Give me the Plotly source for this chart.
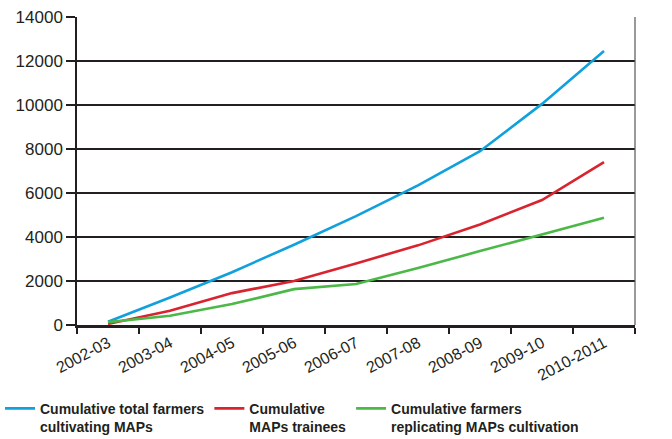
import plotly.graph_objects as go

years = ["2002-03", "2003-04", "2004-05", "2005-06", "2006-07",
         "2007-08", "2008-09", "2009-10", "2010-2011"]
total_farmers = [150, 1250, 2400, 3650, 4950, 6350, 7900, 10050, 12450]
trainees = [50, 650, 1450, 2000, 2800, 3620, 4570, 5680, 7400]
replicating = [130, 420, 950, 1630, 1860, 2590, 3360, 4110, 4880]
series_names = ["Cumulative total farmers<br>cultivating MAPs",
                "Cumulative<br>MAPs trainees",
                "Cumulative farmers<br>replicating MAPs cultivation"]
colors = ["#10a0dc", "#d9232e", "#4cb848"]
y_ticks = [0, 2000, 4000, 6000, 8000, 10000, 12000, 14000]

fig = go.Figure()
for name, vals, c in zip(series_names, [total_farmers, trainees, replicating], colors):
    fig.add_trace(go.Scatter(x=years, y=vals, mode="lines", name=name,
                             line=dict(color=c, width=2.6)))

font_main = "Liberation Sans, Arial, sans-serif"
fig.update_layout(
    width=672, height=439,
    margin=dict(l=77, r=37, t=17, b=114, autoexpand=False),
    plot_bgcolor="white", paper_bgcolor="white",
    font=dict(family=font_main, color="#231f20"),
    showlegend=True,
    legend=dict(orientation="h", x=-0.138, xanchor="left",
                y=-0.22, yanchor="top",
                font=dict(family="Liberation Sans, Arial, sans-serif",
                          size=14, color="#231f20", weight="bold"),
                itemwidth=30, traceorder="normal", valign="top"),
    xaxis=dict(type="category", tickson="boundaries", ticks="outside", ticklen=6,
               tickwidth=2, tickcolor="#231f20", showgrid=False,
               showline=True, linecolor="#231f20", linewidth=2.5,
               mirror=False, tickangle=-28, automargin=False,
               tickfont=dict(size=16, color="#231f20"),
               range=[-0.5, 8.5]),
    yaxis=dict(range=[0, 14000], tickvals=y_ticks, ticktext=[str(v) for v in y_ticks],
               ticks="outside", ticklen=9, automargin=False,
               tickwidth=2, tickcolor="#231f20",
               showgrid=True, gridcolor="#231f20", gridwidth=2,
               showline=True, linecolor="#231f20", linewidth=1.5,
               zeroline=False, tickfont=dict(size=17, color="#231f20")),
)
# right border
fig.add_shape(type="line", xref="paper", yref="paper", x0=1, x1=1, y0=0, y1=1,
              line=dict(color="#555555", width=1.2))
fig.write_html("out.html")
